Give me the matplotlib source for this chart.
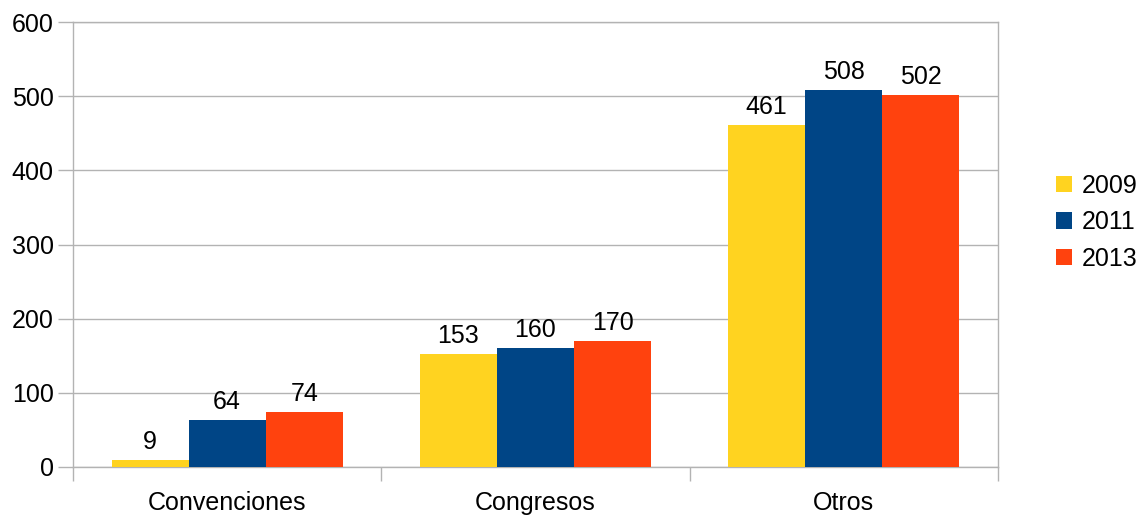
import matplotlib.pyplot as plt
import numpy as np

categories = ["Convenciones", "Congresos", "Otros"]
years = ["2009", "2011", "2013"]
values_2009 = [9, 153, 461]
values_2011 = [64, 160, 508]
values_2013 = [74, 170, 502]
colors = ["#FFD320", "#004586", "#FF420E"]

plt.rcParams["font.family"] = ["Liberation Sans", "DejaVu Sans"]
grid_color = "#b3b3b3"
fs = 18

fig = plt.figure(figsize=(11.41, 5.16), dpi=100)
ax = fig.add_axes([73 / 1141, 1 - 467 / 516, (998 - 73) / 1141, (467 - 22) / 516])

x = np.arange(len(categories))
width = 0.25
series = [values_2009, values_2011, values_2013]
for i, (vals, year, color) in enumerate(zip(series, years, colors)):
    pos = x + (i - 1) * width
    bars = ax.bar(pos, vals, width, color=color, label=year, zorder=3)
    for b, v in zip(bars, vals):
        ax.text(b.get_x() + b.get_width() / 2, v + 8, str(v),
                ha="center", va="bottom", fontsize=fs, zorder=4)

ax.set_xlim(-0.5, 2.5)
ax.set_ylim(0, 600)
ax.set_yticks(range(0, 601, 100))
ax.yaxis.grid(True, color=grid_color, linewidth=1, zorder=0)
ax.set_xticks(x)
ax.set_xticklabels(categories)
ax.set_xticks([-0.5, 0.5, 1.5, 2.5], minor=True)
ax.tick_params(axis="x", which="major", length=0, pad=17, labelsize=fs)
ax.tick_params(axis="x", which="minor", length=10, color=grid_color, width=1)
ax.tick_params(axis="y", length=11, color=grid_color, width=1, labelsize=fs, pad=3)
for s in ax.spines.values():
    s.set_color(grid_color)
    s.set_linewidth(1)

ax.legend(loc="center left", bbox_to_anchor=(1.052, 0.55), frameon=False,
          fontsize=fs, handlelength=0.65, handleheight=0.65, handletextpad=0.38,
          labelspacing=0.5, borderaxespad=0)

fig.savefig("out.png", dpi=100)
